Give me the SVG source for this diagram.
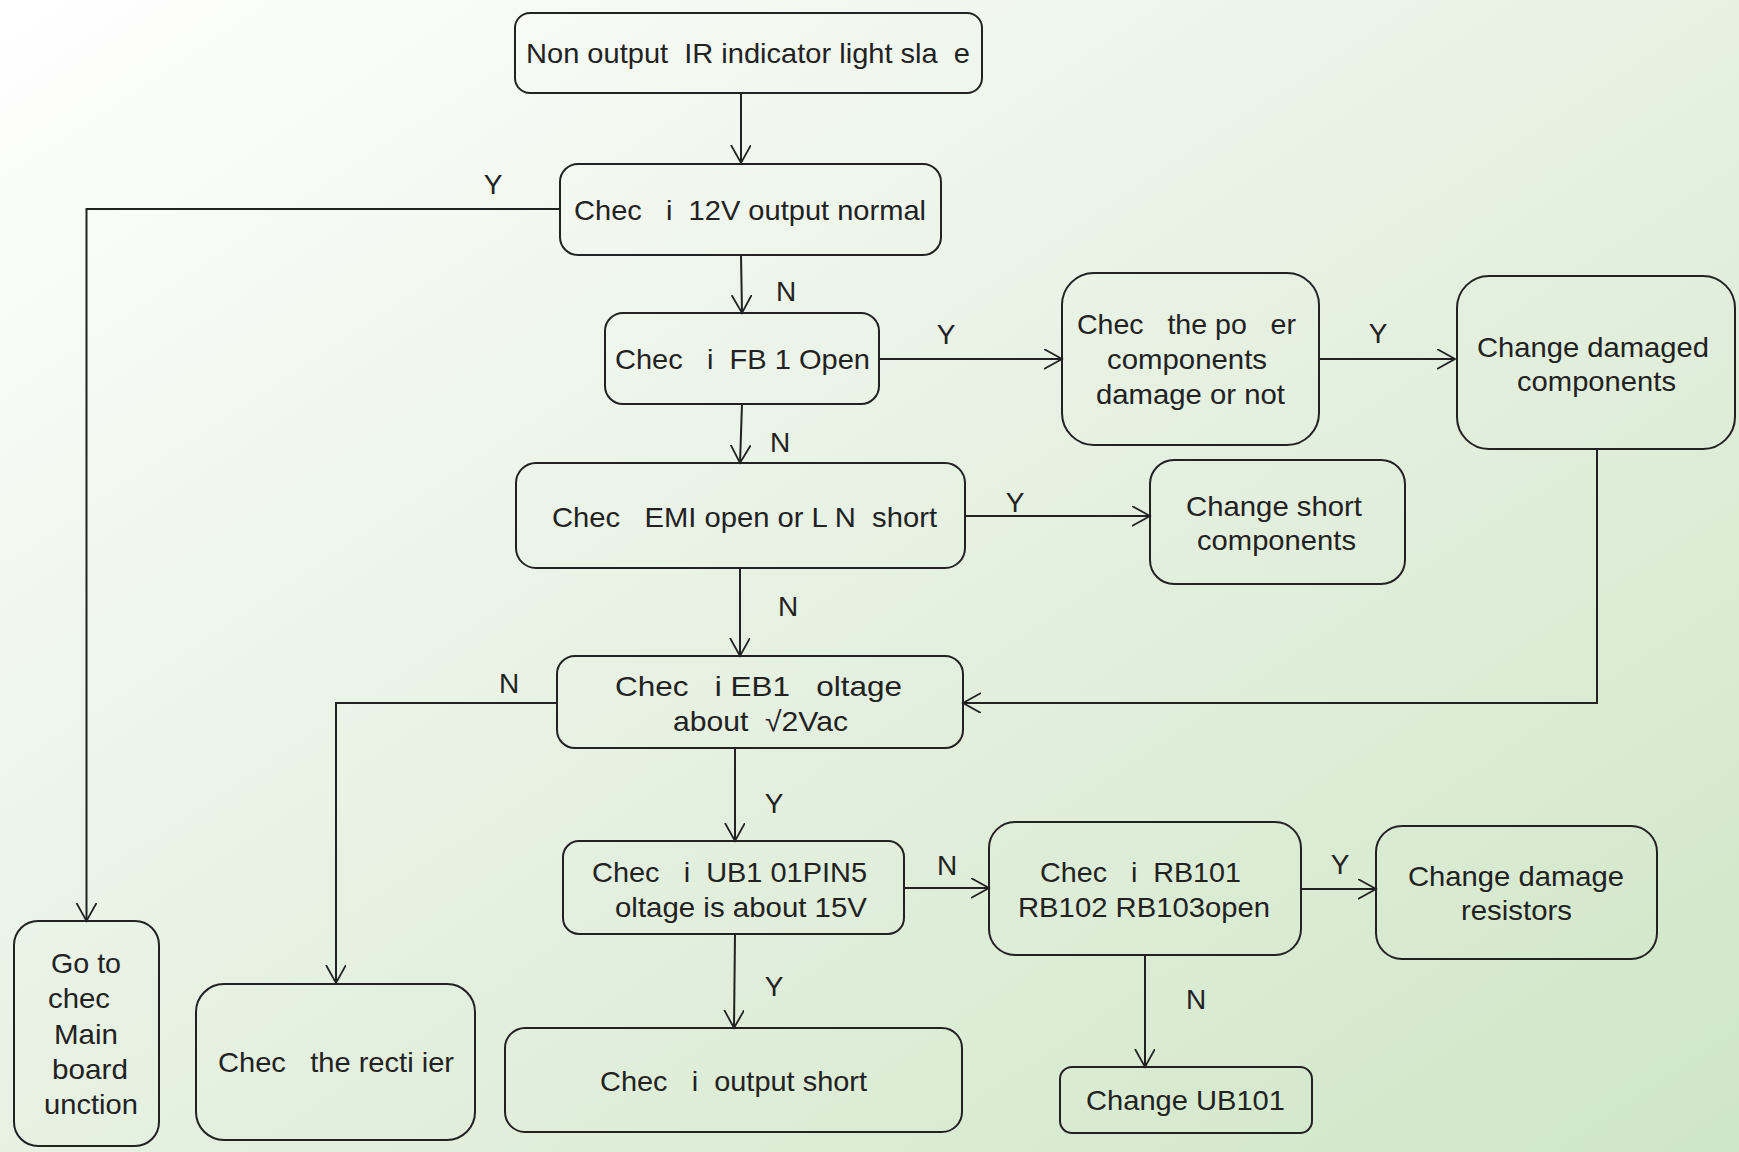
<svg xmlns="http://www.w3.org/2000/svg" width="1739" height="1152" viewBox="0 0 1739 1152">
  <defs>
    <linearGradient id="bg" x1="0" y1="0" x2="1" y2="1">
      <stop offset="0" stop-color="#ffffff"/>
      <stop offset="0.5" stop-color="#e6f1e2"/>
      <stop offset="1" stop-color="#cfe6c6"/>
    </linearGradient>
    <marker id="arrow" markerWidth="24" markerHeight="24" refX="18" refY="10" orient="auto" markerUnits="userSpaceOnUse">
      <path d="M0,0 L18,10 L0,20" fill="none" stroke="#222" stroke-width="1.8"/>
    </marker>
  </defs>
  <style>
    .box { fill: none; stroke: #222; stroke-width: 2; }
    .t { font-family: "Liberation Sans", Arial, sans-serif; font-size: 28px; fill: #222; white-space: pre; }
    .lbl { font-family: "Liberation Sans", Arial, sans-serif; font-size: 28px; fill: #222; text-anchor: middle; }
    .wire { fill: none; stroke: #222; stroke-width: 2; }
  </style>

  <rect x="0" y="0" width="1739" height="1152" fill="url(#bg)"/>

  <!-- connectors -->
  <g id="connectors">
    <path class="wire" d="M741,93 L741,163" marker-end="url(#arrow)"/>
    <path class="wire" d="M560,209 L86.5,209 L86.5,921" marker-end="url(#arrow)"/>
    <path class="wire" d="M741,255 L742,313" marker-end="url(#arrow)"/>
    <path class="wire" d="M879,359 L1062,359" marker-end="url(#arrow)"/>
    <path class="wire" d="M1319,359 L1455,359" marker-end="url(#arrow)"/>
    <path class="wire" d="M742,404 L740,463" marker-end="url(#arrow)"/>
    <path class="wire" d="M965,516 L1150,516" marker-end="url(#arrow)"/>
    <path class="wire" d="M740,568 L740,656" marker-end="url(#arrow)"/>
    <path class="wire" d="M1597,449 L1597,703 L963,703" marker-end="url(#arrow)"/>
    <path class="wire" d="M557,703 L336,703 L336,983" marker-end="url(#arrow)"/>
    <path class="wire" d="M735,748 L735,841" marker-end="url(#arrow)"/>
    <path class="wire" d="M904,888 L989,888" marker-end="url(#arrow)"/>
    <path class="wire" d="M1301,889 L1376,889" marker-end="url(#arrow)"/>
    <path class="wire" d="M735,934 L734,1028" marker-end="url(#arrow)"/>
    <path class="wire" d="M1145,955 L1145,1067" marker-end="url(#arrow)"/>

    <text class="lbl" x="493" y="194">Y</text>
    <text class="lbl" x="786" y="301">N</text>
    <text class="lbl" x="946" y="344">Y</text>
    <text class="lbl" x="1378" y="343">Y</text>
    <text class="lbl" x="780" y="452">N</text>
    <text class="lbl" x="1015" y="512">Y</text>
    <text class="lbl" x="788" y="616">N</text>
    <text class="lbl" x="509" y="693">N</text>
    <text class="lbl" x="774" y="813">Y</text>
    <text class="lbl" x="947" y="875">N</text>
    <text class="lbl" x="1340" y="874">Y</text>
    <text class="lbl" x="774" y="996">Y</text>
    <text class="lbl" x="1196" y="1009">N</text>
  </g>

  <g id="start">
    <rect class="box" x="515" y="13" width="467" height="80" rx="15"/>
    <text class="t" x="526" y="63" textLength="444" lengthAdjust="spacingAndGlyphs">Non output  IR indicator light sla  e</text>
  </g>

  <g id="check-12v">
    <rect class="box" x="560" y="164" width="381" height="91" rx="18"/>
    <text class="t" x="574" y="220" textLength="352" lengthAdjust="spacingAndGlyphs">Chec   i  12V output normal</text>
  </g>

  <g id="check-fb1">
    <rect class="box" x="605" y="313" width="274" height="91" rx="18"/>
    <text class="t" x="615" y="369" textLength="255" lengthAdjust="spacingAndGlyphs">Chec   i  FB 1 Open</text>
  </g>

  <g id="check-power">
    <rect class="box" x="1062" y="273" width="257" height="172" rx="32"/>
    <text class="t" x="1077" y="334" textLength="219" lengthAdjust="spacingAndGlyphs">Chec   the po   er</text>
    <text class="t" x="1107" y="369" textLength="160" lengthAdjust="spacingAndGlyphs">components</text>
    <text class="t" x="1096" y="404" textLength="189" lengthAdjust="spacingAndGlyphs">damage or not</text>
  </g>

  <g id="change-damaged">
    <rect class="box" x="1457" y="276" width="278" height="173" rx="32"/>
    <text class="t" x="1477" y="357" textLength="232" lengthAdjust="spacingAndGlyphs">Change damaged</text>
    <text class="t" x="1517" y="391" textLength="159" lengthAdjust="spacingAndGlyphs">components</text>
  </g>

  <g id="check-emi">
    <rect class="box" x="516" y="463" width="449" height="105" rx="20"/>
    <text class="t" x="552" y="527" textLength="385" lengthAdjust="spacingAndGlyphs">Chec   EMI open or L N  short</text>
  </g>

  <g id="change-short">
    <rect class="box" x="1150" y="460" width="255" height="124" rx="24"/>
    <text class="t" x="1186" y="516" textLength="176" lengthAdjust="spacingAndGlyphs">Change short</text>
    <text class="t" x="1197" y="550" textLength="159" lengthAdjust="spacingAndGlyphs">components</text>
  </g>

  <g id="check-eb1">
    <rect class="box" x="557" y="656" width="406" height="92" rx="18"/>
    <text class="t" x="615" y="696" textLength="287" lengthAdjust="spacingAndGlyphs">Chec   i EB1   oltage</text>
    <text class="t" x="673" y="731" textLength="175" lengthAdjust="spacingAndGlyphs">about  √2Vac</text>
  </g>

  <g id="check-ub1">
    <rect class="box" x="563" y="841" width="341" height="93" rx="16"/>
    <text class="t" x="592" y="882" textLength="275" lengthAdjust="spacingAndGlyphs">Chec   i  UB1 01PIN5</text>
    <text class="t" x="615" y="917" textLength="252" lengthAdjust="spacingAndGlyphs">oltage is about 15V</text>
  </g>

  <g id="check-rb">
    <rect class="box" x="989" y="822" width="312" height="133" rx="26"/>
    <text class="t" x="1040" y="882" textLength="201" lengthAdjust="spacingAndGlyphs">Chec   i  RB101</text>
    <text class="t" x="1018" y="917" textLength="252" lengthAdjust="spacingAndGlyphs">RB102 RB103open</text>
  </g>

  <g id="change-resistors">
    <rect class="box" x="1376" y="826" width="281" height="133" rx="26"/>
    <text class="t" x="1408" y="886" textLength="216" lengthAdjust="spacingAndGlyphs">Change damage</text>
    <text class="t" x="1461" y="920" textLength="111" lengthAdjust="spacingAndGlyphs">resistors</text>
  </g>

  <g id="change-ub101">
    <rect class="box" x="1060" y="1067" width="252" height="66" rx="12"/>
    <text class="t" x="1086" y="1110" textLength="199" lengthAdjust="spacingAndGlyphs">Change UB101</text>
  </g>

  <g id="goto-main">
    <rect class="box" x="14" y="921" width="145" height="225" rx="24"/>
    <text class="t" x="51" y="973" textLength="70" lengthAdjust="spacingAndGlyphs">Go to</text>
    <text class="t" x="48" y="1008" textLength="62" lengthAdjust="spacingAndGlyphs">chec</text>
    <text class="t" x="54" y="1044" textLength="64" lengthAdjust="spacingAndGlyphs">Main</text>
    <text class="t" x="52" y="1079" textLength="76" lengthAdjust="spacingAndGlyphs">board</text>
    <text class="t" x="44" y="1114" textLength="94" lengthAdjust="spacingAndGlyphs">unction</text>
  </g>

  <g id="check-rectifier">
    <rect class="box" x="196" y="984" width="279" height="156" rx="28"/>
    <text class="t" x="218" y="1072" textLength="236" lengthAdjust="spacingAndGlyphs">Chec   the recti ier</text>
  </g>

  <g id="check-output-short">
    <rect class="box" x="505" y="1028" width="457" height="104" rx="20"/>
    <text class="t" x="600" y="1091" textLength="267" lengthAdjust="spacingAndGlyphs">Chec   i  output short</text>
  </g>
</svg>
